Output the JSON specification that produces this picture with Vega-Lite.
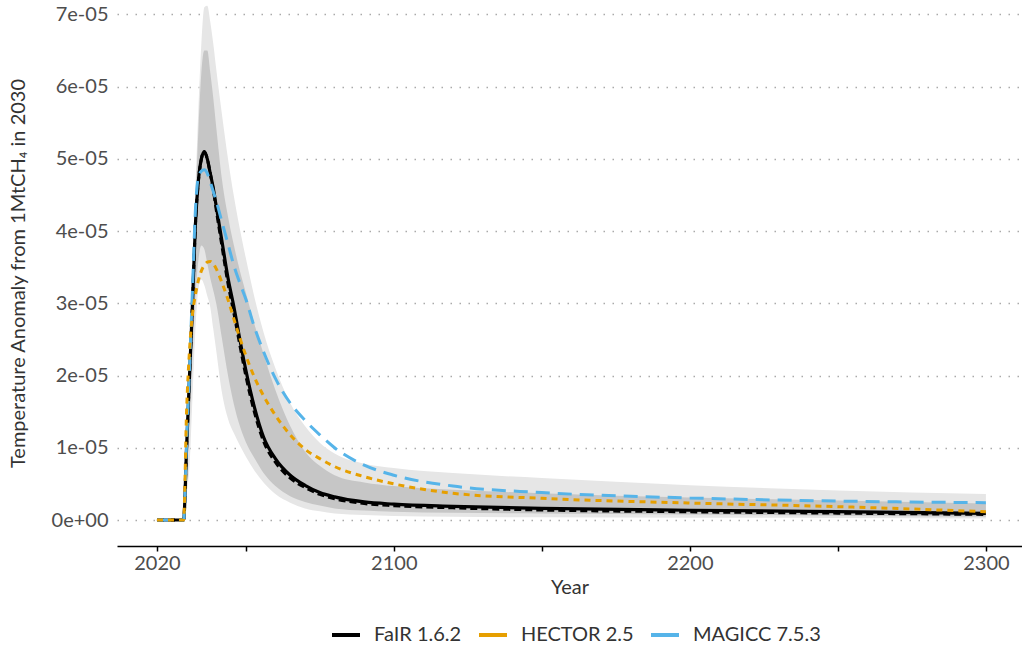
{
  "$schema": "https://vega.github.io/schema/vega-lite/v6.json",
  "width": 905,
  "height": 546,
  "autosize": "none",
  "padding": {"left": 117, "top": 0, "right": 0, "bottom": 101},
  "background": "white",
  "config": {
    "view": {"stroke": null},
    "font": "Lato",
    "axis": {"labelFont": "Lato", "titleFont": "Lato"},
    "legend": {"labelFont": "Lato"}
  },
  "datasets": {
    "bands": [
      {"year": 2020, "lo90": 0, "lo66": 0, "hi66": 0, "hi90": 0},
      {"year": 2029, "lo90": 0, "lo66": 0, "hi66": 0, "hi90": 0},
      {"year": 2030, "lo90": 0.35e-5, "lo66": 0.6e-5, "hi66": 1.1e-5, "hi90": 1.15e-5},
      {"year": 2031, "lo90": 0.75e-5, "lo66": 1.3e-5, "hi66": 2.2e-5, "hi90": 2.3e-5},
      {"year": 2032, "lo90": 1.7e-5, "lo66": 2.3e-5, "hi66": 3.3e-5, "hi90": 3.5e-5},
      {"year": 2033, "lo90": 2.65e-5, "lo66": 3.1e-5, "hi66": 4.4e-5, "hi90": 4.6e-5},
      {"year": 2034, "lo90": 3.2e-5, "lo66": 3.6e-5, "hi66": 5.4e-5, "hi90": 5.7e-5},
      {"year": 2035, "lo90": 3.33e-5, "lo66": 3.8e-5, "hi66": 6.2e-5, "hi90": 6.6e-5},
      {"year": 2036, "lo90": 3.25e-5, "lo66": 3.75e-5, "hi66": 6.5e-5, "hi90": 7.1e-5},
      {"year": 2037, "lo90": 3.1e-5, "lo66": 3.55e-5, "hi66": 6.5e-5, "hi90": 7.12e-5},
      {"year": 2038, "lo90": 2.95e-5, "lo66": 3.35e-5, "hi66": 6.2e-5, "hi90": 6.9e-5},
      {"year": 2039, "lo90": 2.65e-5, "lo66": 3.18e-5, "hi66": 5.85e-5, "hi90": 6.6e-5},
      {"year": 2040, "lo90": 2.35e-5, "lo66": 3.0e-5, "hi66": 5.45e-5, "hi90": 6.25e-5},
      {"year": 2042, "lo90": 1.75e-5, "lo66": 2.5e-5, "hi66": 4.7e-5, "hi90": 5.6e-5},
      {"year": 2044, "lo90": 1.4e-5, "lo66": 2.0e-5, "hi66": 4.2e-5, "hi90": 5.0e-5},
      {"year": 2046, "lo90": 1.2e-5, "lo66": 1.6e-5, "hi66": 3.8e-5, "hi90": 4.48e-5},
      {"year": 2048, "lo90": 1.03e-5, "lo66": 1.3e-5, "hi66": 3.45e-5, "hi90": 4.03e-5},
      {"year": 2050, "lo90": 0.88e-5, "lo66": 1.08e-5, "hi66": 3.15e-5, "hi90": 3.63e-5},
      {"year": 2053, "lo90": 0.68e-5, "lo66": 0.85e-5, "hi66": 2.7e-5, "hi90": 3.07e-5},
      {"year": 2056, "lo90": 0.52e-5, "lo66": 0.65e-5, "hi66": 2.3e-5, "hi90": 2.6e-5},
      {"year": 2060, "lo90": 0.36e-5, "lo66": 0.47e-5, "hi66": 1.8e-5, "hi90": 2.1e-5},
      {"year": 2065, "lo90": 0.24e-5, "lo66": 0.33e-5, "hi66": 1.3e-5, "hi90": 1.62e-5},
      {"year": 2070, "lo90": 0.16e-5, "lo66": 0.25e-5, "hi66": 0.95e-5, "hi90": 1.3e-5},
      {"year": 2075, "lo90": 0.12e-5, "lo66": 0.2e-5, "hi66": 0.75e-5, "hi90": 1.07e-5},
      {"year": 2080, "lo90": 0.09e-5, "lo66": 0.16e-5, "hi66": 0.62e-5, "hi90": 0.92e-5},
      {"year": 2090, "lo90": 0.07e-5, "lo66": 0.13e-5, "hi66": 0.52e-5, "hi90": 0.78e-5},
      {"year": 2100, "lo90": 0.055e-5, "lo66": 0.115e-5, "hi66": 0.47e-5, "hi90": 0.72e-5},
      {"year": 2120, "lo90": 0.045e-5, "lo66": 0.1e-5, "hi66": 0.42e-5, "hi90": 0.65e-5},
      {"year": 2150, "lo90": 0.037e-5, "lo66": 0.09e-5, "hi66": 0.37e-5, "hi90": 0.58e-5},
      {"year": 2200, "lo90": 0.032e-5, "lo66": 0.075e-5, "hi66": 0.31e-5, "hi90": 0.48e-5},
      {"year": 2250, "lo90": 0.028e-5, "lo66": 0.06e-5, "hi66": 0.27e-5, "hi90": 0.41e-5},
      {"year": 2300, "lo90": 0.02e-5, "lo66": 0.046e-5, "hi66": 0.23e-5, "hi90": 0.36e-5}
    ],
    "lines": [
      {"year": 2020, "model": "FaIR 1.6.2", "value": 0},
      {"year": 2029, "model": "FaIR 1.6.2", "value": 0},
      {"year": 2030, "model": "FaIR 1.6.2", "value": 1.0e-5},
      {"year": 2031, "model": "FaIR 1.6.2", "value": 2.0e-5},
      {"year": 2032, "model": "FaIR 1.6.2", "value": 3.0e-5},
      {"year": 2033, "model": "FaIR 1.6.2", "value": 4.1e-5},
      {"year": 2034, "model": "FaIR 1.6.2", "value": 4.7e-5},
      {"year": 2035, "model": "FaIR 1.6.2", "value": 5.0e-5},
      {"year": 2036, "model": "FaIR 1.6.2", "value": 5.1e-5},
      {"year": 2037, "model": "FaIR 1.6.2", "value": 5.0e-5},
      {"year": 2038, "model": "FaIR 1.6.2", "value": 4.8e-5},
      {"year": 2039, "model": "FaIR 1.6.2", "value": 4.6e-5},
      {"year": 2040, "model": "FaIR 1.6.2", "value": 4.35e-5},
      {"year": 2042, "model": "FaIR 1.6.2", "value": 3.85e-5},
      {"year": 2044, "model": "FaIR 1.6.2", "value": 3.35e-5},
      {"year": 2046, "model": "FaIR 1.6.2", "value": 2.95e-5},
      {"year": 2048, "model": "FaIR 1.6.2", "value": 2.5e-5},
      {"year": 2050, "model": "FaIR 1.6.2", "value": 2.08e-5},
      {"year": 2053, "model": "FaIR 1.6.2", "value": 1.55e-5},
      {"year": 2056, "model": "FaIR 1.6.2", "value": 1.15e-5},
      {"year": 2060, "model": "FaIR 1.6.2", "value": 0.85e-5},
      {"year": 2065, "model": "FaIR 1.6.2", "value": 0.62e-5},
      {"year": 2070, "model": "FaIR 1.6.2", "value": 0.48e-5},
      {"year": 2075, "model": "FaIR 1.6.2", "value": 0.38e-5},
      {"year": 2080, "model": "FaIR 1.6.2", "value": 0.32e-5},
      {"year": 2090, "model": "FaIR 1.6.2", "value": 0.25e-5},
      {"year": 2100, "model": "FaIR 1.6.2", "value": 0.22e-5},
      {"year": 2120, "model": "FaIR 1.6.2", "value": 0.19e-5},
      {"year": 2150, "model": "FaIR 1.6.2", "value": 0.16e-5},
      {"year": 2200, "model": "FaIR 1.6.2", "value": 0.135e-5},
      {"year": 2250, "model": "FaIR 1.6.2", "value": 0.115e-5},
      {"year": 2300, "model": "FaIR 1.6.2", "value": 0.093e-5},

      {"year": 2020, "model": "FaIR 1.6.2 mean", "value": 0},
      {"year": 2029, "model": "FaIR 1.6.2 mean", "value": 0},
      {"year": 2030, "model": "FaIR 1.6.2 mean", "value": 1.0e-5},
      {"year": 2031, "model": "FaIR 1.6.2 mean", "value": 2.0e-5},
      {"year": 2032, "model": "FaIR 1.6.2 mean", "value": 3.0e-5},
      {"year": 2033, "model": "FaIR 1.6.2 mean", "value": 4.1e-5},
      {"year": 2034, "model": "FaIR 1.6.2 mean", "value": 4.7e-5},
      {"year": 2035, "model": "FaIR 1.6.2 mean", "value": 5.0e-5},
      {"year": 2036, "model": "FaIR 1.6.2 mean", "value": 5.1e-5},
      {"year": 2037, "model": "FaIR 1.6.2 mean", "value": 5.0e-5},
      {"year": 2038, "model": "FaIR 1.6.2 mean", "value": 4.8e-5},
      {"year": 2039, "model": "FaIR 1.6.2 mean", "value": 4.58e-5},
      {"year": 2040, "model": "FaIR 1.6.2 mean", "value": 4.3e-5},
      {"year": 2042, "model": "FaIR 1.6.2 mean", "value": 3.78e-5},
      {"year": 2044, "model": "FaIR 1.6.2 mean", "value": 3.27e-5},
      {"year": 2046, "model": "FaIR 1.6.2 mean", "value": 2.86e-5},
      {"year": 2048, "model": "FaIR 1.6.2 mean", "value": 2.42e-5},
      {"year": 2050, "model": "FaIR 1.6.2 mean", "value": 2.0e-5},
      {"year": 2053, "model": "FaIR 1.6.2 mean", "value": 1.48e-5},
      {"year": 2056, "model": "FaIR 1.6.2 mean", "value": 1.09e-5},
      {"year": 2060, "model": "FaIR 1.6.2 mean", "value": 0.8e-5},
      {"year": 2065, "model": "FaIR 1.6.2 mean", "value": 0.58e-5},
      {"year": 2070, "model": "FaIR 1.6.2 mean", "value": 0.45e-5},
      {"year": 2075, "model": "FaIR 1.6.2 mean", "value": 0.355e-5},
      {"year": 2080, "model": "FaIR 1.6.2 mean", "value": 0.295e-5},
      {"year": 2090, "model": "FaIR 1.6.2 mean", "value": 0.228e-5},
      {"year": 2100, "model": "FaIR 1.6.2 mean", "value": 0.198e-5},
      {"year": 2120, "model": "FaIR 1.6.2 mean", "value": 0.168e-5},
      {"year": 2150, "model": "FaIR 1.6.2 mean", "value": 0.138e-5},
      {"year": 2200, "model": "FaIR 1.6.2 mean", "value": 0.113e-5},
      {"year": 2250, "model": "FaIR 1.6.2 mean", "value": 0.095e-5},
      {"year": 2300, "model": "FaIR 1.6.2 mean", "value": 0.077e-5},

      {"year": 2020, "model": "HECTOR 2.5", "value": 0},
      {"year": 2029, "model": "HECTOR 2.5", "value": 0},
      {"year": 2030, "model": "HECTOR 2.5", "value": 1.5e-5},
      {"year": 2031, "model": "HECTOR 2.5", "value": 2.35e-5},
      {"year": 2032, "model": "HECTOR 2.5", "value": 2.85e-5},
      {"year": 2033, "model": "HECTOR 2.5", "value": 3.12e-5},
      {"year": 2034, "model": "HECTOR 2.5", "value": 3.32e-5},
      {"year": 2035, "model": "HECTOR 2.5", "value": 3.45e-5},
      {"year": 2036, "model": "HECTOR 2.5", "value": 3.53e-5},
      {"year": 2037, "model": "HECTOR 2.5", "value": 3.57e-5},
      {"year": 2038, "model": "HECTOR 2.5", "value": 3.58e-5},
      {"year": 2039, "model": "HECTOR 2.5", "value": 3.55e-5},
      {"year": 2040, "model": "HECTOR 2.5", "value": 3.48e-5},
      {"year": 2042, "model": "HECTOR 2.5", "value": 3.28e-5},
      {"year": 2044, "model": "HECTOR 2.5", "value": 3.05e-5},
      {"year": 2046, "model": "HECTOR 2.5", "value": 2.78e-5},
      {"year": 2048, "model": "HECTOR 2.5", "value": 2.52e-5},
      {"year": 2050, "model": "HECTOR 2.5", "value": 2.28e-5},
      {"year": 2053, "model": "HECTOR 2.5", "value": 1.97e-5},
      {"year": 2056, "model": "HECTOR 2.5", "value": 1.72e-5},
      {"year": 2060, "model": "HECTOR 2.5", "value": 1.45e-5},
      {"year": 2065, "model": "HECTOR 2.5", "value": 1.18e-5},
      {"year": 2070, "model": "HECTOR 2.5", "value": 0.98e-5},
      {"year": 2075, "model": "HECTOR 2.5", "value": 0.85e-5},
      {"year": 2080, "model": "HECTOR 2.5", "value": 0.74e-5},
      {"year": 2090, "model": "HECTOR 2.5", "value": 0.6e-5},
      {"year": 2100, "model": "HECTOR 2.5", "value": 0.5e-5},
      {"year": 2120, "model": "HECTOR 2.5", "value": 0.37e-5},
      {"year": 2150, "model": "HECTOR 2.5", "value": 0.3e-5},
      {"year": 2200, "model": "HECTOR 2.5", "value": 0.235e-5},
      {"year": 2250, "model": "HECTOR 2.5", "value": 0.185e-5},
      {"year": 2300, "model": "HECTOR 2.5", "value": 0.115e-5},

      {"year": 2020, "model": "MAGICC 7.5.3", "value": 0},
      {"year": 2029, "model": "MAGICC 7.5.3", "value": 0},
      {"year": 2030, "model": "MAGICC 7.5.3", "value": 1.05e-5},
      {"year": 2031, "model": "MAGICC 7.5.3", "value": 2.1e-5},
      {"year": 2032, "model": "MAGICC 7.5.3", "value": 3.2e-5},
      {"year": 2033, "model": "MAGICC 7.5.3", "value": 4.3e-5},
      {"year": 2034, "model": "MAGICC 7.5.3", "value": 4.75e-5},
      {"year": 2035, "model": "MAGICC 7.5.3", "value": 4.83e-5},
      {"year": 2036, "model": "MAGICC 7.5.3", "value": 4.85e-5},
      {"year": 2037, "model": "MAGICC 7.5.3", "value": 4.8e-5},
      {"year": 2038, "model": "MAGICC 7.5.3", "value": 4.68e-5},
      {"year": 2039, "model": "MAGICC 7.5.3", "value": 4.55e-5},
      {"year": 2040, "model": "MAGICC 7.5.3", "value": 4.42e-5},
      {"year": 2042, "model": "MAGICC 7.5.3", "value": 4.12e-5},
      {"year": 2044, "model": "MAGICC 7.5.3", "value": 3.82e-5},
      {"year": 2046, "model": "MAGICC 7.5.3", "value": 3.52e-5},
      {"year": 2048, "model": "MAGICC 7.5.3", "value": 3.28e-5},
      {"year": 2050, "model": "MAGICC 7.5.3", "value": 3.06e-5},
      {"year": 2053, "model": "MAGICC 7.5.3", "value": 2.66e-5},
      {"year": 2056, "model": "MAGICC 7.5.3", "value": 2.33e-5},
      {"year": 2060, "model": "MAGICC 7.5.3", "value": 1.96e-5},
      {"year": 2065, "model": "MAGICC 7.5.3", "value": 1.62e-5},
      {"year": 2070, "model": "MAGICC 7.5.3", "value": 1.38e-5},
      {"year": 2075, "model": "MAGICC 7.5.3", "value": 1.18e-5},
      {"year": 2080, "model": "MAGICC 7.5.3", "value": 1.0e-5},
      {"year": 2090, "model": "MAGICC 7.5.3", "value": 0.76e-5},
      {"year": 2100, "model": "MAGICC 7.5.3", "value": 0.62e-5},
      {"year": 2120, "model": "MAGICC 7.5.3", "value": 0.47e-5},
      {"year": 2150, "model": "MAGICC 7.5.3", "value": 0.38e-5},
      {"year": 2200, "model": "MAGICC 7.5.3", "value": 0.305e-5},
      {"year": 2250, "model": "MAGICC 7.5.3", "value": 0.262e-5},
      {"year": 2300, "model": "MAGICC 7.5.3", "value": 0.24e-5}
    ]
  },
  "layer": [
    {
      "data": {"name": "bands"},
      "mark": {"type": "area", "color": "#e6e6e6", "interpolate": "monotone", "opacity": 1},
      "encoding": {
        "x": {
          "field": "year", "type": "quantitative",
          "scale": {"domain": [2006.5, 2312.2], "nice": false, "zero": false},
          "axis": {
            "title": "Year",
            "values": [2020, 2050, 2100, 2150, 2200, 2250, 2300],
            "format": "d",
            "labelExpr": "(datum.value % 100 == 0 || datum.value == 2020) ? datum.label : ''",
            "grid": false,
            "domain": true, "domainColor": "#000000", "domainWidth": 1.5,
            "ticks": true, "tickColor": "#000000", "tickWidth": 1.5, "tickSize": 5,
            "labelFontSize": 20, "labelColor": "#4d4d4d", "labelPadding": 2,
            "labelOverlap": false, "labelBound": false, "labelFlush": false,
            "titleFontSize": 20, "titleColor": "#333333", "titleFontWeight": "normal", "titlePadding": 4
          }
        },
        "y": {
          "field": "lo90", "type": "quantitative",
          "scale": {"domain": [-0.0000036, 0.000072], "nice": false, "zero": false},
          "axis": {
            "title": "Temperature Anomaly from 1MtCH₄ in 2030",
            "values": [0, 1e-5, 2e-5, 3e-5, 4e-5, 5e-5, 6e-5, 7e-5],
            "labelExpr": "datum.value == 0 ? '0e+00' : format(datum.value * 1e5, '.0f') + 'e-05'",
            "domain": false, "ticks": false,
            "grid": true, "gridColor": "#aaaaaa", "gridDash": [1.5, 7.5], "gridWidth": 1.5,
            "labelFontSize": 20, "labelColor": "#4d4d4d", "labelPadding": 9,
            "titleFontSize": 20, "titleColor": "#333333", "titleFontWeight": "normal", "titlePadding": 23
          }
        },
        "y2": {"field": "hi90"}
      }
    },
    {
      "data": {"name": "bands"},
      "mark": {"type": "area", "color": "#c6c6c6", "interpolate": "monotone", "opacity": 1},
      "encoding": {
        "x": {"field": "year", "type": "quantitative"},
        "y": {"field": "lo66", "type": "quantitative"},
        "y2": {"field": "hi66"}
      }
    },
    {
      "data": {"name": "lines"},
      "transform": [{"filter": "datum.model == 'FaIR 1.6.2'"}],
      "mark": {"type": "line", "strokeWidth": 3.2, "interpolate": "monotone"},
      "encoding": {
        "x": {"field": "year", "type": "quantitative"},
        "y": {"field": "value", "type": "quantitative"},
        "color": {
          "field": "model", "type": "nominal",
          "scale": {"domain": ["FaIR 1.6.2", "HECTOR 2.5", "MAGICC 7.5.3"], "range": ["#000000", "#E69F00", "#56B4E9"]},
          "legend": {
            "title": null, "orient": "none", "direction": "horizontal",
            "legendX": 213, "legendY": 619,
            "symbolType": "stroke", "symbolSize": 784, "symbolStrokeWidth": 4, "symbolDash": [],
            "labelFontSize": 20, "labelColor": "#333333", "labelOffset": 12,
            "columnPadding": 9, "padding": 0
          }
        }
      }
    },
    {
      "data": {"name": "lines"},
      "transform": [{"filter": "datum.model == 'FaIR 1.6.2 mean'"}],
      "mark": {"type": "line", "color": "#000000", "strokeWidth": 3, "strokeDash": [7, 4], "interpolate": "monotone"},
      "encoding": {
        "x": {"field": "year", "type": "quantitative"},
        "y": {"field": "value", "type": "quantitative"}
      }
    },
    {
      "data": {"name": "lines"},
      "transform": [{"filter": "datum.model == 'MAGICC 7.5.3'"}],
      "mark": {"type": "line", "color": "#56B4E9", "strokeWidth": 3, "strokeDash": [14, 8], "interpolate": "monotone"},
      "encoding": {
        "x": {"field": "year", "type": "quantitative"},
        "y": {"field": "value", "type": "quantitative"}
      }
    },
    {
      "data": {"name": "lines"},
      "transform": [{"filter": "datum.model == 'HECTOR 2.5'"}],
      "mark": {"type": "line", "color": "#E69F00", "strokeWidth": 3, "strokeDash": [6, 5], "interpolate": "monotone"},
      "encoding": {
        "x": {"field": "year", "type": "quantitative"},
        "y": {"field": "value", "type": "quantitative"}
      }
    }
  ]
}
